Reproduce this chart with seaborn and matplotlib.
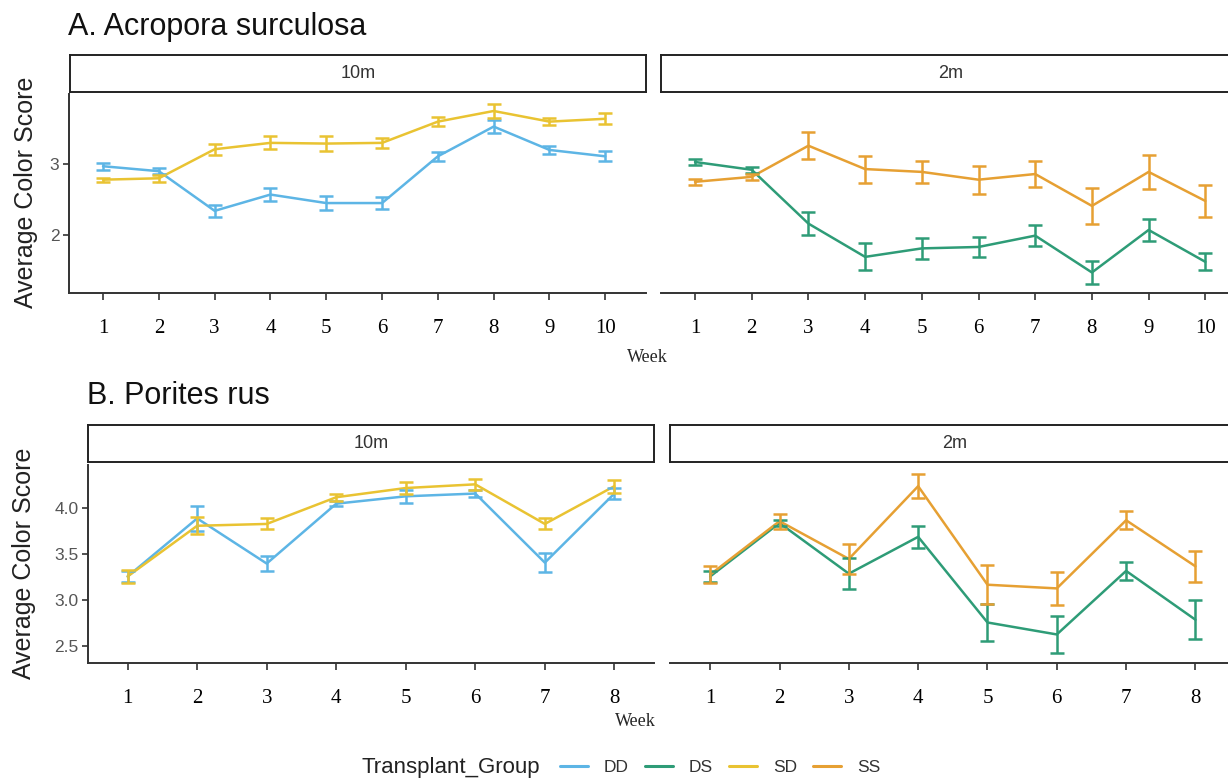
import pandas as pd
import matplotlib.pyplot as plt
import seaborn as sns
from matplotlib.lines import Line2D

# values (mean and error bar half-length)
weeks_a = [1, 2, 3, 4, 5, 6, 7, 8, 9, 10]
a10_dd = [2.97, 2.90, 2.34, 2.57, 2.45, 2.45, 3.11, 3.53, 3.20, 3.11]
a10_dd_err = [0.05, 0.04, 0.08, 0.09, 0.10, 0.09, 0.06, 0.09, 0.06, 0.07]
a10_sd = [2.78, 2.80, 3.21, 3.30, 3.29, 3.30, 3.60, 3.75, 3.60, 3.64]
a10_sd_err = [0.03, 0.05, 0.08, 0.09, 0.10, 0.07, 0.06, 0.10, 0.05, 0.08]
a2_ds = [3.03, 2.92, 2.16, 1.69, 1.81, 1.83, 1.99, 1.47, 2.07, 1.62]
a2_ds_err = [0.04, 0.04, 0.16, 0.19, 0.15, 0.14, 0.15, 0.16, 0.16, 0.12]
a2_ss = [2.75, 2.82, 3.26, 2.93, 2.89, 2.78, 2.86, 2.41, 2.89, 2.48]
a2_ss_err = [0.04, 0.04, 0.19, 0.19, 0.15, 0.20, 0.18, 0.25, 0.24, 0.23]

weeks_b = [1, 2, 3, 4, 5, 6, 7, 8]
b10_dd = [3.26, 3.89, 3.40, 4.05, 4.13, 4.16, 3.41, 4.16]
b10_dd_err = [0.06, 0.14, 0.08, 0.03, 0.07, 0.04, 0.10, 0.06]
b10_sd = [3.26, 3.81, 3.83, 4.12, 4.22, 4.26, 3.83, 4.24]
b10_sd_err = [0.07, 0.09, 0.06, 0.04, 0.06, 0.06, 0.06, 0.07]
b2_ds = [3.26, 3.84, 3.29, 3.69, 2.76, 2.63, 3.32, 2.79]
b2_ds_err = [0.06, 0.03, 0.17, 0.12, 0.20, 0.20, 0.10, 0.21]
b2_ss = [3.28, 3.86, 3.45, 4.24, 3.17, 3.13, 3.87, 3.37]
b2_ss_err = [0.09, 0.08, 0.16, 0.13, 0.21, 0.18, 0.10, 0.17]

groups = ['DD', 'DS', 'SD', 'SS']
colors = {'DD': '#5DB5E5', 'DS': '#2E9C77', 'SD': '#E9C332', 'SS': '#E6A033'}

sns.set_style('white')
plt.rcParams['font.family'] = ['Liberation Sans', 'DejaVu Sans']

W, H = 1228, 778
fig = plt.figure(figsize=(W / 100, H / 100), dpi=100)


def px_axes(x0, y0, x1, y1):
    return fig.add_axes([x0 / W, 1 - y1 / H, (x1 - x0) / W, (y1 - y0) / H])


def make_df(weeks, series):
    rows = []
    for g, (vals, errs) in series.items():
        for w, v, e in zip(weeks, vals, errs):
            rows.append({'Week': w, 'Score': v, 'Err': e, 'Group': g})
    return pd.DataFrame(rows)


def strip(x0, y0, x1, y1, label):
    s = px_axes(x0, y0, x1, y1)
    s.set_xticks([])
    s.set_yticks([])
    for sp in s.spines.values():
        sp.set_visible(True)
        sp.set_color('#222222')
        sp.set_linewidth(1.4)
    s.text(0.5, 0.5, label, ha='center', va='center', fontsize=13,
           color='#333333', transform=s.transAxes)


def panel(box, df, xlim, ylim, yticks, weeks, left):
    ax = px_axes(*box)
    sns.lineplot(data=df, x='Week', y='Score', hue='Group', palette=colors,
                 linewidth=1.8, legend=False, ax=ax)
    for g, d in df.groupby('Group'):
        ax.errorbar(d['Week'], d['Score'], yerr=d['Err'], fmt='none',
                    ecolor=colors[g], elinewidth=1.8, capsize=5, capthick=1.8)
    ax.set_xlim(*xlim)
    ax.set_ylim(*ylim)
    ax.set_xticks(weeks)
    ax.set_xticklabels([str(w) for w in weeks], family='Liberation Serif',
                       fontsize=15, color='black')
    ax.tick_params(axis='x', bottom=True, length=5, width=1.2, color='#333333', pad=14)
    ax.set_xlabel('')
    ax.set_ylabel('')
    sns.despine(ax=ax)
    ax.spines['bottom'].set_color('#333333')
    ax.spines['bottom'].set_linewidth(1.4)
    if left:
        ax.set_yticks(yticks)
        ax.set_yticklabels(yticks if isinstance(yticks[0], int) else
                           [f'{t:.1f}' for t in yticks],
                           fontsize=12.5, color='#555555')
        ax.tick_params(axis='y', left=True, length=4, width=1.2, color='#333333', pad=3)
        ax.spines['left'].set_color('#333333')
        ax.spines['left'].set_linewidth(1.4)
    else:
        ax.set_yticks([])
        ax.spines['left'].set_visible(False)
    return ax


df_a10 = make_df(weeks_a, {'DD': (a10_dd, a10_dd_err), 'SD': (a10_sd, a10_sd_err)})
df_a2 = make_df(weeks_a, {'DS': (a2_ds, a2_ds_err), 'SS': (a2_ss, a2_ss_err)})
df_b10 = make_df(weeks_b, {'DD': (b10_dd, b10_dd_err), 'SD': (b10_sd, b10_sd_err)})
df_b2 = make_df(weeks_b, {'DS': (b2_ds, b2_ds_err), 'SS': (b2_ss, b2_ss_err)})

# panel A
fig.text(68 / W, 1 - 35 / H, 'A. Acropora surculosa', fontsize=22, color='#111111')
strip(70, 55, 646, 92, '10m')
strip(661, 55, 1240, 92, '2m')
panel((69, 94, 646, 293), df_a10, (0.39, 10.73), (1.18, 3.99), [2, 3], weeks_a, True)
panel((661, 94, 1228, 293), df_a2, (0.4, 10.4), (1.18, 3.99), [2, 3], weeks_a, False)
fig.text(647 / W, 1 - 357 / H, 'Week', family='Liberation Serif', fontsize=13,
         ha='center', va='center')
fig.text(26 / W, 1 - 192 / H, 'Average Color Score', rotation=90, fontsize=18,
         color='#222222', ha='center', va='center')

# panel B
fig.text(87 / W, 1 - 404 / H, 'B. Porites rus', fontsize=22, color='#111111')
strip(88, 425, 654, 462, '10m')
strip(670, 425, 1240, 462, '2m')
panel((88, 465, 654, 663), df_b10, (0.43, 8.57), (2.32, 4.47), [2.5, 3.0, 3.5, 4.0], weeks_b, True)
panel((670, 465, 1228, 663), df_b2, (0.42, 8.47), (2.32, 4.47), [2.5, 3.0, 3.5, 4.0], weeks_b, False)
fig.text(635 / W, 1 - 722 / H, 'Week', family='Liberation Serif', fontsize=13,
         ha='center', va='center')
fig.text(24 / W, 1 - 563 / H, 'Average Color Score', rotation=90, fontsize=18,
         color='#222222', ha='center', va='center')

# legend
fig.text(362 / W, 1 - 767 / H, 'Transplant_Group', fontsize=16, color='#222222',
         ha='left', va='center')
handles = [Line2D([0], [0], color=colors[g], lw=2.2) for g in groups]
fig.legend(handles, groups, ncol=4, loc='center', bbox_to_anchor=(720 / W, 1 - 767 / H),
           frameon=False, fontsize=12.5, handlelength=1.65, handletextpad=0.9,
           columnspacing=0.9, labelcolor='#333333')

fig.savefig('out.png', dpi=100)
